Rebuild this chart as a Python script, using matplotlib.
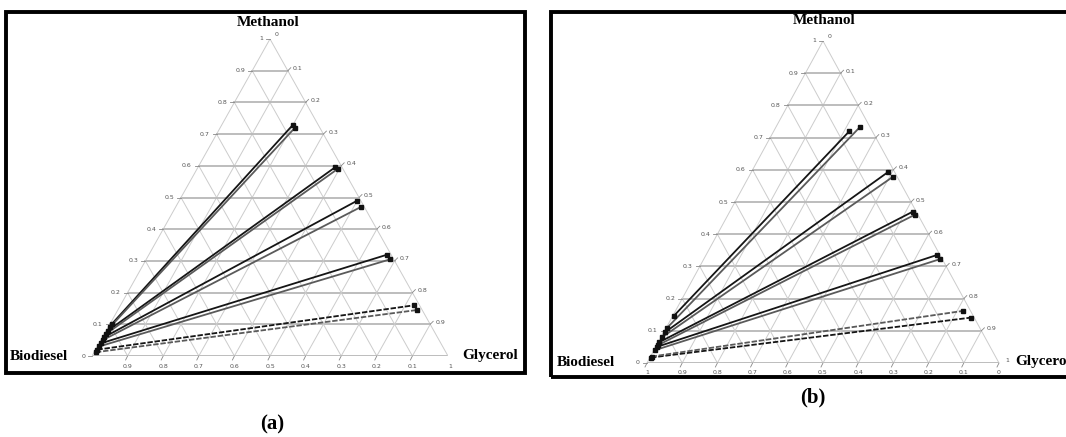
import numpy as np
import matplotlib.pyplot as plt
from matplotlib.patches import Rectangle

# tie lines: (methanol, glycerol) fractions at both ends, biodiesel = 1 - m - g
# panel (a): 5 tie lines, each drawn twice (experimental / calculated)
a_m_left = [0.100, 0.090, 0.080, 0.070, 0.060, 0.050, 0.040, 0.030, 0.020, 0.012]
a_g_left = [0.005, 0.005, 0.005, 0.005, 0.005, 0.005, 0.005, 0.005, 0.005, 0.005]
a_m_right = [0.730, 0.720, 0.595, 0.590, 0.490, 0.470, 0.320, 0.305, 0.160, 0.145]
a_g_right = [0.200, 0.210, 0.385, 0.395, 0.500, 0.520, 0.670, 0.685, 0.825, 0.840]

# panel (b)
b_m_left = [0.146, 0.110, 0.095, 0.080, 0.065, 0.055, 0.050, 0.040, 0.017, 0.020]
b_g_left = [0.003, 0.003, 0.003, 0.003, 0.003, 0.003, 0.003, 0.003, 0.003, 0.003]
b_m_right = [0.720, 0.734, 0.594, 0.579, 0.470, 0.460, 0.335, 0.323, 0.141, 0.162]
b_g_right = [0.215, 0.239, 0.389, 0.410, 0.520, 0.530, 0.655, 0.672, 0.850, 0.818]

ticks = np.round(np.arange(0, 1.01, 0.1), 1)

W_FIG, H_FIG = 1066, 437
fig = plt.figure(figsize=(W_FIG / 100, H_FIG / 100), dpi=100)
SERIF = ['Liberation Serif', 'DejaVu Serif']


def ftext(x, y, s, **kw):
    fig.text(x / W_FIG, 1 - y / H_FIG, s, **kw)


def xy(m, g):
    m = np.asarray(m, float)
    g = np.asarray(g, float)
    return g + m / 2, m


def ternary(x0, width, base, apex, m_l, g_l, m_r, g_r, bottom_labels):
    ax = fig.add_axes([x0 / W_FIG, (H_FIG - base) / H_FIG,
                       width / W_FIG, (base - apex) / H_FIG])
    ax.set_xlim(0, 1)
    ax.set_ylim(0, 1)
    ax.axis('off')
    px, py = 1 / width, 1 / (base - apex)

    # grid
    for t in ticks:
        # constant methanol (horizontal)
        ax.plot([t / 2, 1 - t / 2], [t, t], color='#b8b8b8', lw=1.3, zorder=1)
        # constant glycerol (parallel to left edge)
        ax.plot([t, t + (1 - t) / 2], [0, 1 - t], color='#cccccc', lw=0.7, zorder=1)
        # constant biodiesel (parallel to right edge)
        ax.plot([1 - t, (1 - t) / 2], [0, 1 - t], color='#cccccc', lw=0.7, zorder=1)

    tk = dict(color='#888888', lw=0.6, clip_on=False)
    lab = dict(fontsize=4.5, color='#555555', family='DejaVu Sans')
    for t in ticks:
        # left axis: methanol
        x, y = t / 2, t
        ax.plot([x - 4 * px, x], [y, y], **tk)
        ax.annotate(f"{t:g}", (x, y), xytext=(-7, 0), textcoords='offset pixels',
                    ha='right', va='center', **lab)
        # right axis: glycerol (biodiesel = 0)
        x, y = 0.5 + t / 2, 1 - t
        if 0 < t < 1:
            ax.plot([x, x + 3 * px], [y, y + 3 * py], **tk)
            ax.annotate(f"{t:g}", (x, y), xytext=(5, 2), textcoords='offset pixels',
                        ha='left', va='center', **lab)
    # apex right label
    ax.annotate("0", (0.5, 1), xytext=(5, 4), textcoords='offset pixels',
                ha='left', va='center', **lab)
    for t in bottom_labels:
        x = 1 - t
        ax.plot([x, x - 2 * px], [0, -4 * py], **tk)
        ax.annotate(f"{t:g}", (x, 0), xytext=(0, -10), textcoords='offset pixels',
                    ha='center', va='center', **lab)

    # tie lines
    xl, yl = xy(m_l, g_l)
    xr, yr = xy(m_r, g_r)
    for i in range(len(xl)):
        last = i >= len(xl) - 2
        col = '#151515' if i % 2 == 0 else '#5a5a5a'
        ls = (0, (3, 1)) if last else '-'
        ax.plot([xl[i], xr[i]], [yl[i], yr[i]], color=col, lw=1.3, ls=ls, zorder=3)
        ax.plot([xl[i], xr[i]], [yl[i], yr[i]], 's', color='#111111',
                ms=3, zorder=4, clip_on=False)
    return ax


# panel (a)
ternary(92, 356, 356, 39, a_m_left, a_g_left, a_m_right, a_g_right,
        bottom_labels=ticks[1:10])
fig.add_artist(Rectangle((6 / W_FIG, 1 - 373 / H_FIG), 519 / W_FIG, 361 / H_FIG,
                         transform=fig.transFigure, fill=False, lw=2.8, ec='black'))
ftext(268, 22, "Methanol", ha='center', va='center', fontsize=11, weight='bold', family=SERIF)
ftext(39, 357, "Biodiesel", ha='center', va='center', fontsize=11, weight='bold', family=SERIF)
ftext(490, 355, "Glycerol", ha='center', va='center', fontsize=11, weight='bold', family=SERIF)
ftext(450, 366, "1", ha='center', va='center', fontsize=4.5, color='#555555')
ftext(272, 424, "(a)", ha='center', va='center', fontsize=15, weight='bold', family=SERIF)

# panel (b)
ternary(647, 352, 363, 41, b_m_left, b_g_left, b_m_right, b_g_right,
        bottom_labels=ticks)
ftext(1007, 360, "1", ha='center', va='center', fontsize=4.5, color='#555555')
fig.add_artist(Rectangle((551 / W_FIG, 1 - 377 / H_FIG), 530 / W_FIG, 365 / H_FIG,
                         transform=fig.transFigure, fill=False, lw=2.8, ec='black',
                         clip_on=False))
ftext(824, 21, "Methanol", ha='center', va='center', fontsize=11, weight='bold', family=SERIF)
ftext(586, 363, "Biodiesel", ha='center', va='center', fontsize=11, weight='bold', family=SERIF)
ftext(1015, 362, "Glycerol", ha='left', va='center', fontsize=11, weight='bold', family=SERIF)
ftext(813, 397, "(b)", ha='center', va='center', fontsize=15, weight='bold', family=SERIF)

fig.savefig('out.png', dpi=100)
